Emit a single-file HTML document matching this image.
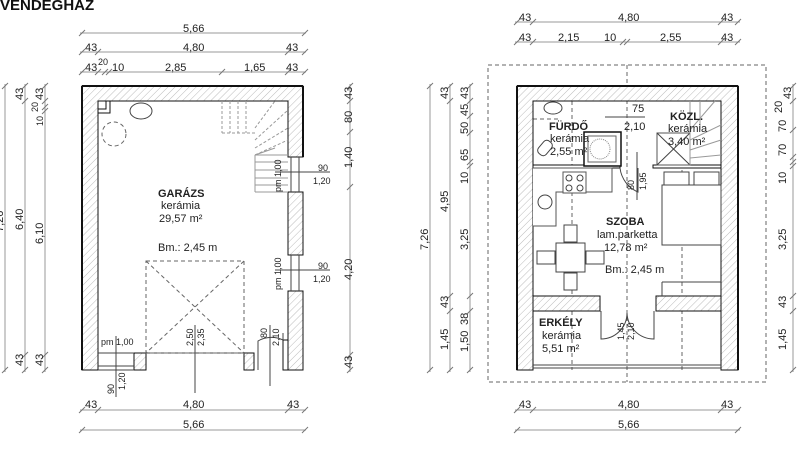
<!DOCTYPE html>
<html><head><meta charset="utf-8"><style>
html,body{margin:0;padding:0;background:#fff;}
svg{display:block;font-family:"Liberation Sans",sans-serif;}
.t{font-size:11px;fill:#222;}
.s{font-size:9px;fill:#222;}
.b{font-size:11px;font-weight:bold;fill:#222;}
.d{stroke:#999;stroke-width:1;fill:none;}
.k{stroke:#777;stroke-width:1;}
.w{fill:url(#h);stroke:#111;stroke-width:1;}
.ln{stroke:#444;stroke-width:1;fill:none;}
.ds{stroke:#666;stroke-width:1;fill:none;stroke-dasharray:4,3;}
.f{fill:#fff;stroke:#444;stroke-width:1;}
</style></head><body>
<svg width="800" height="463" viewBox="0 0 800 463" xmlns="http://www.w3.org/2000/svg">
<defs>
<pattern id="h" width="5" height="5" patternUnits="userSpaceOnUse" patternTransform="rotate(45)">
<rect width="5" height="5" fill="#fff"/><line x1="0" y1="0" x2="0" y2="5" stroke="#aaa" stroke-width="0.8"/>
</pattern>
</defs>
<text x="0" y="10" style="font-size:15px;font-weight:bold" fill="#111">VENDÉGHÁZ</text>

<!-- ===== LEFT PLAN ===== -->
<!-- top dims -->
<g>
<line class="d" x1="80" y1="33" x2="306" y2="33"/>
<line class="d" x1="80" y1="52" x2="306" y2="52"/>
<line class="d" x1="80" y1="72" x2="306" y2="72"/>
<g class="k">
<line x1="79" y1="36" x2="85" y2="30"/><line x1="302" y1="36" x2="308" y2="30"/>
<line x1="79" y1="55" x2="85" y2="49"/><line x1="95" y1="55" x2="101" y2="49"/><line x1="285" y1="55" x2="291" y2="49"/><line x1="302" y1="55" x2="308" y2="49"/>
<line x1="79" y1="75" x2="85" y2="69"/><line x1="95" y1="75" x2="101" y2="69"/><line x1="102" y1="75" x2="108" y2="69"/><line x1="106" y1="75" x2="112" y2="69"/><line x1="219" y1="75" x2="225" y2="69"/><line x1="285" y1="75" x2="291" y2="69"/><line x1="302" y1="75" x2="308" y2="69"/>
</g>
<text class="t" x="183" y="32">5,66</text>
<text class="t" x="85" y="51">43</text><text class="t" x="183" y="51">4,80</text><text class="t" x="286" y="51">43</text>
<text class="t" x="85" y="71">43</text><text class="s" x="98" y="65">20</text><text class="t" x="112" y="71">10</text><text class="t" x="165" y="71">2,85</text><text class="t" x="244" y="71">1,65</text><text class="t" x="286" y="71">43</text>
<!-- bottom dims -->
<line class="d" x1="80" y1="410" x2="306" y2="410"/>
<line class="d" x1="80" y1="430" x2="306" y2="430"/>
<g class="k"><line x1="79" y1="413" x2="85" y2="407"/><line x1="95" y1="413" x2="101" y2="407"/><line x1="285" y1="413" x2="291" y2="407"/><line x1="302" y1="413" x2="308" y2="407"/><line x1="79" y1="433" x2="85" y2="427"/><line x1="302" y1="433" x2="308" y2="427"/></g>
<text class="t" x="85" y="408">43</text><text class="t" x="183" y="408">4,80</text><text class="t" x="287" y="408">43</text>
<text class="t" x="183" y="428">5,66</text>
<!-- left vertical dims -->
<line class="d" x1="5" y1="84" x2="5" y2="372"/>
<line class="d" x1="25" y1="84" x2="25" y2="372"/>
<line class="d" x1="45" y1="84" x2="45" y2="372"/>
<g class="k"><line x1="2" y1="89" x2="8" y2="83"/><line x1="2" y1="373" x2="8" y2="367"/><line x1="22" y1="89" x2="28" y2="83"/><line x1="22" y1="104" x2="28" y2="98"/><line x1="22" y1="358" x2="28" y2="352"/><line x1="22" y1="373" x2="28" y2="367"/><line x1="42" y1="89" x2="48" y2="83"/><line x1="42" y1="104" x2="48" y2="98"/><line x1="42" y1="110" x2="48" y2="104"/><line x1="42" y1="114" x2="48" y2="108"/><line x1="42" y1="358" x2="48" y2="352"/><line x1="42" y1="373" x2="48" y2="367"/></g>
<text class="t" transform="translate(3,232) rotate(-90)">7,26</text>
<text class="t" transform="translate(23,230) rotate(-90)">6,40</text>
<text class="t" transform="translate(43,244) rotate(-90)">6,10</text>
<text class="t" transform="translate(23,100) rotate(-90)">43</text>
<text class="t" transform="translate(43,100) rotate(-90)">43</text>
<text class="s" transform="translate(38,112) rotate(-90)">20</text>
<text class="s" transform="translate(43,126) rotate(-90)">10</text>
<text class="t" transform="translate(23,366) rotate(-90)">43</text>
<text class="t" transform="translate(43,366) rotate(-90)">43</text>
<!-- right vertical dim -->
<line class="d" x1="350" y1="84" x2="350" y2="372"/>
<g class="k"><line x1="347" y1="89" x2="353" y2="83"/><line x1="347" y1="104" x2="353" y2="98"/><line x1="347" y1="135" x2="353" y2="129"/><line x1="347" y1="190" x2="353" y2="184"/><line x1="347" y1="358" x2="353" y2="352"/><line x1="347" y1="373" x2="353" y2="367"/></g>
<text class="t" transform="translate(352,99) rotate(-90)">43</text>
<text class="t" transform="translate(352,123) rotate(-90)">80</text>
<text class="t" transform="translate(352,168) rotate(-90)">1,40</text>
<text class="t" transform="translate(352,280) rotate(-90)">4,20</text>
<text class="t" transform="translate(352,368) rotate(-90)">43</text>
</g>
<!-- walls left plan -->
<path class="w" d="M82,370 L82,86 L303,86 L303,157 L288,157 L288,101 L98,101 L98,370 Z"/>
<rect class="w" x="288" y="192" width="15" height="63"/>
<rect class="w" x="288" y="291" width="15" height="79"/>
<rect x="283" y="340" width="5" height="30" fill="#fff" stroke="#111"/>
<line x1="82" y1="86" x2="303" y2="86" stroke="#111" stroke-width="2"/>
<line x1="303" y1="86" x2="303" y2="157" stroke="#111" stroke-width="2"/>
<line x1="82" y1="86" x2="82" y2="370" stroke="#111" stroke-width="2"/>
<rect class="w" x="134" y="353" width="12" height="17"/>
<rect class="w" x="244" y="353" width="10" height="17"/>
<!-- windows -->
<line class="ln" x1="291" y1="157" x2="291" y2="192"/><line class="ln" x1="299" y1="157" x2="299" y2="192"/>
<line class="ln" x1="291" y1="255" x2="291" y2="291"/><line class="ln" x1="299" y1="255" x2="299" y2="291"/>
<line class="ln" x1="98" y1="353" x2="134" y2="353"/><line class="ln" x1="98" y1="366" x2="134" y2="366"/><line class="ln" x1="98" y1="370" x2="134" y2="370"/>
<line class="ln" x1="146" y1="353" x2="244" y2="353"/>
<!-- garage door -->
<rect class="ds" x="146" y="261" width="98" height="92"/>
<line class="ds" x1="146" y1="261" x2="244" y2="353"/><line class="ds" x1="244" y1="261" x2="146" y2="353"/>
<!-- door -->
<path class="ln" d="M258,370 L258,341 A27,27 0 0 1 283,340"/>
<line class="ln" x1="283" y1="333" x2="283" y2="340"/>
<!-- furniture -->
<rect x="98" y="101" width="12" height="12" fill="none" stroke="#111"/><rect x="98" y="101" width="8" height="8" fill="none" stroke="#111"/>
<ellipse cx="141" cy="111" rx="11" ry="8" class="f"/>
<circle cx="114" cy="134" r="12" class="ds"/>
<!-- stairs -->
<g stroke="#999" stroke-width="1" fill="none" stroke-dasharray="3,2">
<line x1="222" y1="101" x2="222" y2="133"/><line x1="230" y1="101" x2="230" y2="133"/><line x1="238" y1="101" x2="238" y2="133"/><line x1="246" y1="101" x2="246" y2="133"/><line x1="222" y1="133" x2="255" y2="133"/><line x1="255" y1="140" x2="288" y2="110"/><line x1="255" y1="148" x2="288" y2="128"/><line x1="255" y1="155" x2="288" y2="140"/><line x1="255" y1="128" x2="275" y2="101"/>
</g>
<g stroke="#999" stroke-width="1" fill="none">
<line x1="255" y1="155" x2="288" y2="155"/><line x1="255" y1="162" x2="288" y2="162"/><line x1="255" y1="170" x2="288" y2="170"/><line x1="255" y1="178" x2="288" y2="178"/><line x1="255" y1="185" x2="288" y2="185"/><line x1="255" y1="155" x2="255" y2="192"/><line x1="255" y1="192" x2="288" y2="192"/><line x1="255" y1="155" x2="275" y2="148"/>
</g>
<!-- window labels -->
<line class="ln" x1="275" y1="172" x2="330" y2="172"/><text class="s" x="318" y="171">90</text><text class="s" x="313" y="184">1,20</text>
<text class="s" transform="translate(281,192) rotate(-90)">pm 1,00</text>
<line class="ln" x1="275" y1="270" x2="330" y2="270"/><text class="s" x="318" y="269">90</text><text class="s" x="313" y="282">1,20</text>
<text class="s" transform="translate(281,290) rotate(-90)">pm 1,00</text>
<text class="s" x="101" y="345">pm 1,00</text><line class="ln" x1="116" y1="336" x2="116" y2="397"/>
<text class="s" transform="translate(114,394) rotate(-90)">90</text><text class="s" transform="translate(125,390) rotate(-90)">1,20</text>
<line class="ln" x1="195" y1="325" x2="195" y2="393"/>
<text class="s" transform="translate(193,346) rotate(-90)">2,50</text><text class="s" transform="translate(204,346) rotate(-90)">2,35</text>
<line class="ln" x1="270" y1="325" x2="270" y2="386"/>
<text class="s" transform="translate(267,338) rotate(-90)">80</text><text class="s" transform="translate(279,346) rotate(-90)">2,10</text>
<!-- labels -->
<text class="b" x="158" y="197">GARÁZS</text>
<text class="t" x="161" y="209">kerámia</text>
<text class="t" x="159" y="222">29,57 m²</text>
<text class="t" x="158" y="251">Bm.: 2,45 m</text>

<!-- ===== RIGHT PLAN ===== -->
<line class="d" x1="515" y1="22" x2="740" y2="22"/>
<line class="d" x1="515" y1="42" x2="740" y2="42"/>
<g class="k"><line x1="514" y1="25" x2="520" y2="19"/><line x1="530" y1="25" x2="536" y2="19"/><line x1="718" y1="25" x2="724" y2="19"/><line x1="735" y1="25" x2="741" y2="19"/><line x1="514" y1="45" x2="520" y2="39"/><line x1="530" y1="45" x2="536" y2="39"/><line x1="620" y1="45" x2="626" y2="39"/><line x1="624" y1="45" x2="630" y2="39"/><line x1="718" y1="45" x2="724" y2="39"/><line x1="735" y1="45" x2="741" y2="39"/></g>
<text class="t" x="519" y="21">43</text><text class="t" x="618" y="21">4,80</text><text class="t" x="721" y="21">43</text>
<text class="t" x="519" y="41">43</text><text class="t" x="558" y="41">2,15</text><text class="t" x="604" y="41">10</text><text class="t" x="660" y="41">2,55</text><text class="t" x="721" y="41">43</text>
<line class="d" x1="515" y1="410" x2="740" y2="410"/>
<line class="d" x1="515" y1="430" x2="740" y2="430"/>
<g class="k"><line x1="514" y1="413" x2="520" y2="407"/><line x1="530" y1="413" x2="536" y2="407"/><line x1="718" y1="413" x2="724" y2="407"/><line x1="735" y1="413" x2="741" y2="407"/><line x1="514" y1="433" x2="520" y2="427"/><line x1="735" y1="433" x2="741" y2="427"/></g>
<text class="t" x="519" y="408">43</text><text class="t" x="618" y="408">4,80</text><text class="t" x="721" y="408">43</text>
<text class="t" x="618" y="428">5,66</text>
<!-- left dims -->
<line class="d" x1="430" y1="84" x2="430" y2="372"/>
<line class="d" x1="450" y1="84" x2="450" y2="372"/>
<line class="d" x1="470" y1="84" x2="470" y2="372"/>
<g class="k"><line x1="427" y1="89" x2="433" y2="83"/><line x1="427" y1="373" x2="433" y2="367"/>
<line x1="447" y1="89" x2="453" y2="83"/><line x1="447" y1="104" x2="453" y2="98"/><line x1="447" y1="299" x2="453" y2="293"/><line x1="447" y1="314" x2="453" y2="308"/><line x1="447" y1="373" x2="453" y2="367"/>
<line x1="467" y1="89" x2="473" y2="83"/><line x1="467" y1="104" x2="473" y2="98"/><line x1="467" y1="119" x2="473" y2="113"/><line x1="467" y1="136" x2="473" y2="130"/><line x1="467" y1="165" x2="473" y2="159"/><line x1="467" y1="169" x2="473" y2="163"/><line x1="467" y1="299" x2="473" y2="293"/><line x1="467" y1="314" x2="473" y2="308"/><line x1="467" y1="373" x2="473" y2="367"/></g>
<text class="t" transform="translate(428,250) rotate(-90)">7,26</text>
<text class="t" transform="translate(448,99) rotate(-90)">43</text>
<text class="t" transform="translate(448,212) rotate(-90)">4,95</text>
<text class="t" transform="translate(448,308) rotate(-90)">43</text>
<text class="t" transform="translate(448,350) rotate(-90)">1,45</text>
<text class="t" transform="translate(468,99) rotate(-90)">43</text>
<text class="t" transform="translate(468,116) rotate(-90)">45</text>
<text class="t" transform="translate(468,134) rotate(-90)">50</text>
<text class="t" transform="translate(468,161) rotate(-90)">65</text>
<text class="t" transform="translate(468,184) rotate(-90)">10</text>
<text class="t" transform="translate(468,250) rotate(-90)">3,25</text>
<text class="t" transform="translate(468,325) rotate(-90)">38</text>
<text class="t" transform="translate(468,352) rotate(-90)">1,50</text>
<!-- right dims -->
<line class="d" x1="793" y1="84" x2="793" y2="372"/>
<g class="k"><line x1="790" y1="89" x2="796" y2="83"/><line x1="790" y1="104" x2="796" y2="98"/><line x1="790" y1="133" x2="796" y2="127"/><line x1="790" y1="160" x2="796" y2="154"/><line x1="790" y1="165" x2="796" y2="159"/><line x1="790" y1="169" x2="796" y2="163"/><line x1="790" y1="299" x2="796" y2="293"/><line x1="790" y1="314" x2="796" y2="308"/><line x1="790" y1="373" x2="796" y2="367"/></g>
<text class="t" transform="translate(791,99) rotate(-90)">43</text>
<text class="t" transform="translate(782,113) rotate(-90)">20</text>
<text class="t" transform="translate(786,132) rotate(-90)">70</text>
<text class="t" transform="translate(786,156) rotate(-90)">70</text>
<text class="t" transform="translate(786,184) rotate(-90)">10</text>
<text class="t" transform="translate(786,250) rotate(-90)">3,25</text>
<text class="t" transform="translate(786,308) rotate(-90)">43</text>
<text class="t" transform="translate(786,350) rotate(-90)">1,45</text>
<!-- dashed outline -->
<rect class="ds" x="488" y="65" width="278" height="317"/>
<line class="ds" x1="627" y1="65" x2="627" y2="382"/>
<line class="ds" x1="572" y1="101" x2="572" y2="370"/>
<line class="ds" x1="682" y1="170" x2="682" y2="370"/>
<line class="ds" x1="533" y1="119" x2="560" y2="119"/>
<!-- walls -->
<path class="w" d="M517,370 L517,86 L738,86 L738,370 L721,370 L721,101 L533,101 L533,370 Z"/>
<rect class="w" x="533" y="296" width="67" height="15"/>
<rect class="w" x="656" y="296" width="65" height="15"/>
<line x1="517" y1="86" x2="738" y2="86" stroke="#111" stroke-width="2"/>
<line x1="517" y1="86" x2="517" y2="370" stroke="#111" stroke-width="2"/>
<line x1="738" y1="86" x2="738" y2="370" stroke="#111" stroke-width="2"/>
<rect x="533" y="165" width="87" height="3" fill="#fff" stroke="#111"/>
<rect x="653" y="165" width="68" height="3" fill="#fff" stroke="#111"/>
<line class="ln" x1="533" y1="365" x2="721" y2="365"/><line class="ln" x1="533" y1="368" x2="721" y2="368"/>
<!-- balcony door -->
<path class="ln" d="M601,311 L601,339 A26,26 0 0 0 627,313"/>
<path class="ln" d="M654,311 L654,339 A27,27 0 0 1 627,313"/>
<text class="s" transform="translate(624,340) rotate(-90)">1,45</text><text class="s" transform="translate(634,340) rotate(-90)">2,10</text>
<!-- bathroom -->
<ellipse cx="553" cy="108" rx="9" ry="6" class="f"/>
<rect x="584" y="132" width="37" height="34" fill="#fff" stroke="#111" stroke-width="1.5"/>
<rect x="588" y="136" width="28" height="26" fill="#fff" stroke="#666"/>
<circle cx="600" cy="149" r="10" fill="none" stroke="#888" stroke-dasharray="1,1"/>
<rect x="540" y="140" width="10" height="16" rx="4" class="f" transform="rotate(40 545 148)"/>
<line class="ln" x1="605" y1="117" x2="645" y2="117"/>
<text class="t" x="632" y="112">75</text><text class="t" x="624" y="130">2,10</text>
<path class="ln" d="M620,168 A30,30 0 0 0 638,192 L638,168"/>
<line class="ln" x1="637" y1="152" x2="637" y2="200"/>
<text class="s" transform="translate(634,190) rotate(-90)">80</text><text class="s" transform="translate(646,190) rotate(-90)">1,95</text>
<!-- KOZL stairs -->
<rect x="657" y="133" width="33" height="32" fill="#fff" stroke="#555"/>
<line class="ln" x1="657" y1="133" x2="690" y2="165"/><line class="ln" x1="690" y1="133" x2="657" y2="165"/>
<g stroke="#999" fill="none"><line x1="690" y1="101" x2="690" y2="165"/><line x1="690" y1="150" x2="721" y2="140"/><line x1="690" y1="158" x2="721" y2="155"/><line x1="690" y1="140" x2="721" y2="125"/><line x1="690" y1="130" x2="715" y2="101"/><line x1="700" y1="101" x2="700" y2="130"/></g>
<!-- kitchen -->
<path d="M533,168 L612,168 L612,192 L556,192 L556,226 L533,226" fill="#fff" stroke="#555"/>
<rect x="563" y="172" width="23" height="21" fill="#fff" stroke="#555"/>
<circle cx="569" cy="178" r="3" class="f"/><circle cx="580" cy="178" r="3" class="f"/><circle cx="569" cy="188" r="3" class="f"/><circle cx="580" cy="188" r="3" class="f"/>
<circle cx="545" cy="202" r="7" class="f"/>
<!-- table -->
<rect x="556" y="243" width="29" height="29" class="f"/>
<rect x="537" y="251" width="18" height="13" class="f"/><rect x="586" y="251" width="18" height="13" class="f"/>
<rect x="564" y="225" width="13" height="17" class="f"/><rect x="564" y="273" width="13" height="17" class="f"/>
<!-- bed -->
<rect x="662" y="185" width="59" height="60" class="f"/>
<rect x="664" y="172" width="25" height="13" class="f"/><rect x="694" y="172" width="25" height="13" class="f"/>
<line class="ln" x1="662" y1="282" x2="721" y2="282"/><line class="ln" x1="662" y1="282" x2="662" y2="296"/>
<!-- labels -->
<text class="b" x="549" y="130">FÜRDŐ</text><text class="t" x="550" y="142">kerámia</text><text class="t" x="550" y="155">2,55 m²</text>
<text class="b" x="670" y="120">KÖZL.</text><text class="t" x="668" y="132">kerámia</text><text class="t" x="668" y="145">3,40 m²</text>
<text class="b" x="606" y="225">SZOBA</text><text class="t" x="597" y="238">lam.parketta</text><text class="t" x="604" y="251">12,78 m²</text>
<text class="t" x="605" y="273">Bm.: 2,45 m</text>
<text class="b" x="539" y="326">ERKÉLY</text><text class="t" x="542" y="339">kerámia</text><text class="t" x="542" y="352">5,51 m²</text>
</svg>
</body></html>
